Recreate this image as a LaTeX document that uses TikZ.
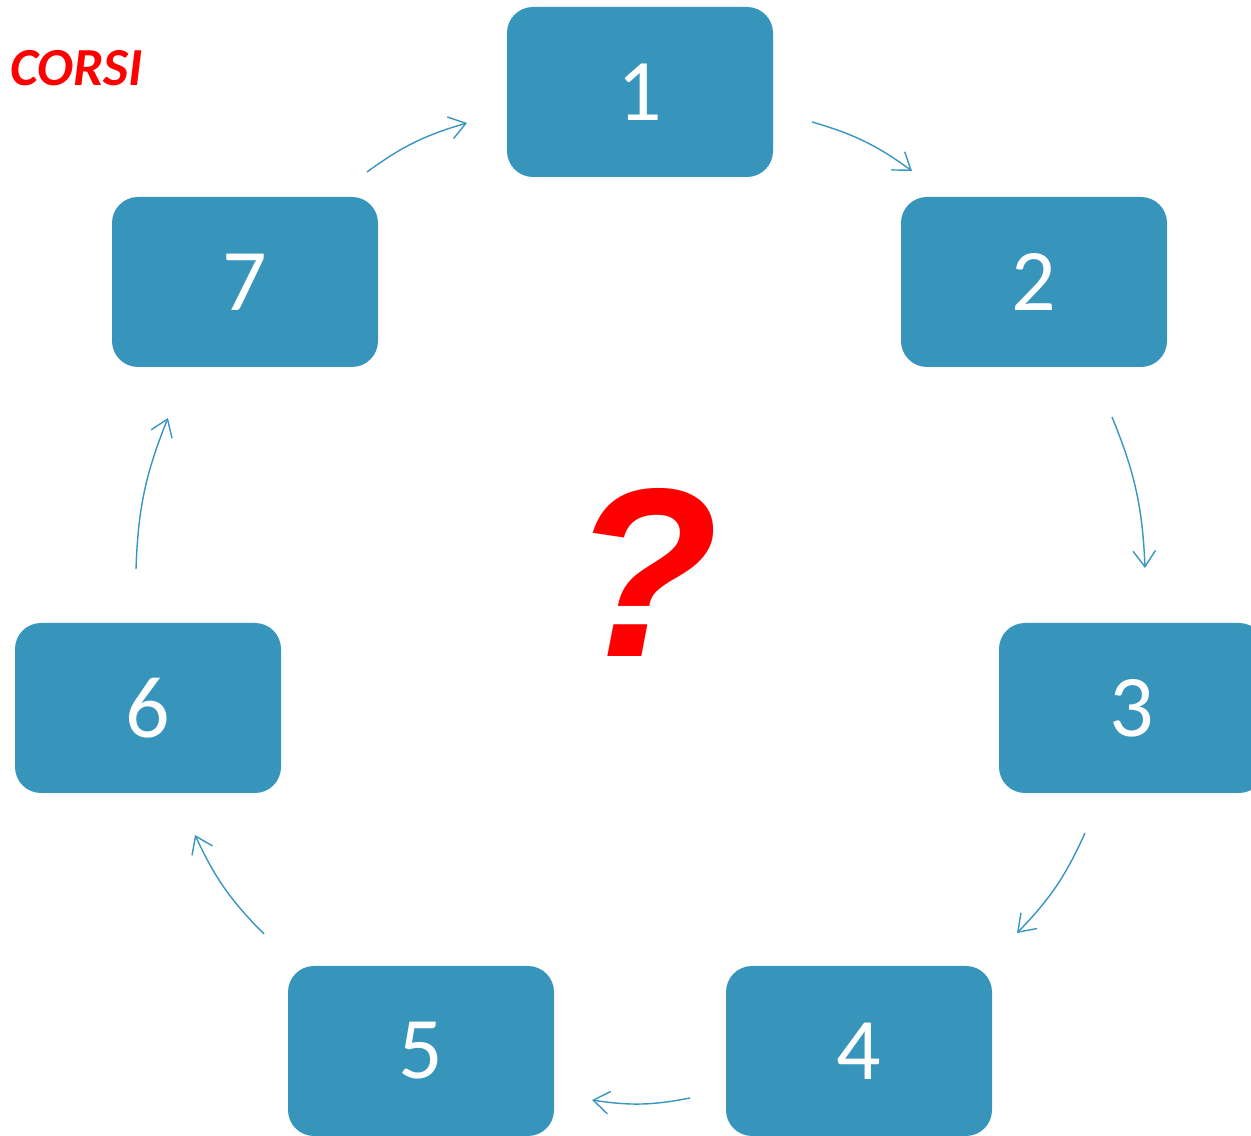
\documentclass[tikz,border=0pt]{standalone}
\usepackage{fontspec}
\setmainfont{Carlito}
\newfontfamily\qfont{Liberation Sans}
\usetikzlibrary{arrows.meta}
\definecolor{boxblue}{HTML}{3795BC}
\definecolor{lineblue}{HTML}{3996C0}
\tikzset{
  box/.style={fill=boxblue, rounded corners=0.52cm, minimum width=5.32cm, minimum height=3.4cm,
    text=white, font=\fontsize{50}{60}\selectfont, inner sep=0pt},
  link/.style={draw=lineblue, line width=0.8pt, -{Straight Barb[length=0.32cm, width=0.45cm, line width=0.8pt]}, bend left=10}
}
\begin{document}
\begin{tikzpicture}
\useasboundingbox (0,0) rectangle (25.02,22.72);
\begin{scope}
\clip (0,0) rectangle (25.02,22.72);
\node[box] (n1) at (12.80,20.88) {1};
\node[box] (n2) at (20.68,17.08) {2};
\node[box] (n3) at (22.64,8.56) {3};
\node[box] (n4) at (17.18,1.70) {4};
\node[box] (n5) at (8.42,1.70) {5};
\node[box] (n6) at (2.96,8.56) {6};
\node[box] (n7) at (4.90,17.08) {7};
\end{scope}
% ends of the arrows
\coordinate (s12) at (16.24,20.28);
\coordinate (e12) at (18.24,19.30);
\coordinate (s23) at (22.24,14.38);
\coordinate (e23) at (22.90,11.36);
\coordinate (s34) at (21.70,6.06);
\coordinate (e34) at (20.34,4.06);
\coordinate (s45) at (13.80,0.76);
\coordinate (e45) at (11.84,0.72);
\coordinate (s56) at (5.28,4.04);
\coordinate (e56) at (3.90,6.02);
\coordinate (s67) at (2.72,11.34);
\coordinate (e67) at (3.36,14.36);
\coordinate (s71) at (7.34,19.28);
\coordinate (e71) at (9.34,20.26);
\draw[link] (s12) to (e12);
\draw[link] (s23) to (e23);
\draw[link] (s34) to (e34);
\draw[link] (s45) to (e45);
\draw[link] (s56) to (e56);
\draw[link] (s67) to (e67);
\draw[link] (s71) to (e71);
\node[anchor=base west, inner sep=0pt, text=red, font=\fontsize{30.5}{36}\selectfont\bfseries\itshape] (title) at (0.20,21.00) {CORSI};
\node[anchor=base, inner sep=0pt, text=red, font=\qfont\fontsize{137}{160}\selectfont\bfseries\itshape] (quest) at (12.90,9.58) {?};
\end{tikzpicture}
\end{document}
